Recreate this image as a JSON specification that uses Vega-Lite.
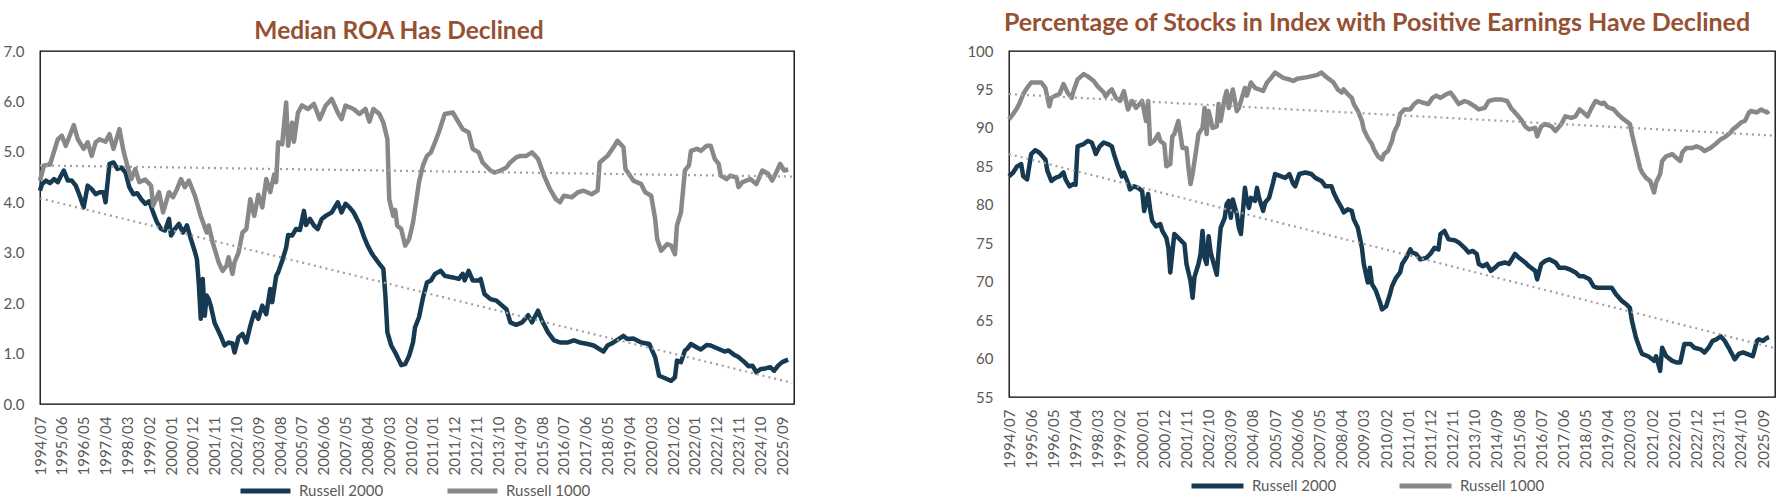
{
"$schema": "https://vega.github.io/schema/vega-lite/v6.json",
"background": "white",
"padding": {"left": 2, "top": 10, "right": 0, "bottom": 0},
"config": {
  "font": "Lato",
  "view": {"stroke": "#000000", "strokeWidth": 1.3},
  "axis": {"labelFont": "Lato", "labelFontSize": 15, "labelColor": "#595959", "grid": false, "ticks": false, "domain": false, "title": null, "labelOverlap": false, "labelSeparation": 0},
  "title": {"font": "Lato", "fontWeight": "bold", "color": "#965032", "anchor": "middle"},
  "legend": {"labelFont": "Lato", "labelFontSize": 15, "labelColor": "#595959", "padding": 0}
},
"datasets": {
"roa": [
{"d":"1994-07","a":4.23},{"d":"1994-08","a":4.36},{"d":"1994-10","a":4.43},{"d":"1994-12","a":4.38},{"d":"1995-02","a":4.46},{"d":"1995-04","a":4.40},{"d":"1995-06","a":4.56},{"d":"1995-07","a":4.63},{"d":"1995-09","a":4.43},{"d":"1995-11","a":4.43},{"d":"1996-01","a":4.33},{"d":"1996-03","a":4.13},{"d":"1996-05","a":3.90},{"d":"1996-07","a":4.33},{"d":"1996-09","a":4.26},{"d":"1996-11","a":4.16},{"d":"1997-01","a":4.20},{"d":"1997-03","a":4.20},{"d":"1997-04","a":4.00},{"d":"1997-06","a":4.76},{"d":"1997-08","a":4.79},{"d":"1997-10","a":4.66},{"d":"1997-12","a":4.69},{"d":"1998-02","a":4.59},{"d":"1998-04","a":4.30},{"d":"1998-06","a":4.16},{"d":"1998-08","a":4.18},{"d":"1998-10","a":4.06},{"d":"1998-12","a":3.97},{"d":"1999-02","a":4.02},{"d":"1999-04","a":3.80},{"d":"1999-06","a":3.60},{"d":"1999-08","a":3.47},{"d":"1999-10","a":3.44},{"d":"1999-12","a":3.67},{"d":"2000-01","a":3.34},{"d":"2000-03","a":3.47},{"d":"2000-05","a":3.57},{"d":"2000-07","a":3.40},{"d":"2000-09","a":3.54},{"d":"2000-11","a":3.27},{"d":"2001-01","a":3.02},{"d":"2001-02","a":2.87},{"d":"2001-03","a":2.41},{"d":"2001-04","a":1.69},{"d":"2001-05","a":2.48},{"d":"2001-06","a":1.75},{"d":"2001-07","a":2.15},{"d":"2001-08","a":2.08},{"d":"2001-09","a":1.95},{"d":"2001-11","a":1.60},{"d":"2001-12","a":1.52},{"d":"2002-02","a":1.35},{"d":"2002-04","a":1.16},{"d":"2002-06","a":1.22},{"d":"2002-08","a":1.20},{"d":"2002-09","a":1.02},{"d":"2002-11","a":1.32},{"d":"2003-01","a":1.39},{"d":"2003-03","a":1.22},{"d":"2003-05","a":1.55},{"d":"2003-07","a":1.82},{"d":"2003-09","a":1.69},{"d":"2003-11","a":1.95},{"d":"2004-01","a":1.78},{"d":"2004-03","a":2.28},{"d":"2004-04","a":2.02},{"d":"2004-06","a":2.54},{"d":"2004-07","a":2.61},{"d":"2004-09","a":2.84},{"d":"2004-11","a":3.10},{"d":"2004-12","a":3.35},{"d":"2005-02","a":3.34},{"d":"2005-04","a":3.47},{"d":"2005-06","a":3.45},{"d":"2005-08","a":3.83},{"d":"2005-09","a":3.55},{"d":"2005-11","a":3.67},{"d":"2006-01","a":3.54},{"d":"2006-03","a":3.47},{"d":"2006-05","a":3.67},{"d":"2006-07","a":3.73},{"d":"2006-10","a":3.80},{"d":"2007-01","a":4.00},{"d":"2007-03","a":3.80},{"d":"2007-05","a":3.97},{"d":"2007-07","a":3.90},{"d":"2007-09","a":3.80},{"d":"2007-12","a":3.57},{"d":"2008-02","a":3.34},{"d":"2008-04","a":3.15},{"d":"2008-06","a":3.00},{"d":"2008-07","a":2.94},{"d":"2008-10","a":2.78},{"d":"2008-12","a":2.68},{"d":"2009-01","a":2.15},{"d":"2009-02","a":1.42},{"d":"2009-04","a":1.16},{"d":"2009-06","a":1.02},{"d":"2009-08","a":0.86},{"d":"2009-09","a":0.77},{"d":"2009-11","a":0.79},{"d":"2010-01","a":0.96},{"d":"2010-03","a":1.22},{"d":"2010-04","a":1.52},{"d":"2010-06","a":1.72},{"d":"2010-08","a":2.11},{"d":"2010-10","a":2.41},{"d":"2010-12","a":2.45},{"d":"2011-02","a":2.58},{"d":"2011-05","a":2.64},{"d":"2011-07","a":2.54},{"d":"2011-11","a":2.51},{"d":"2012-02","a":2.48},{"d":"2012-04","a":2.58},{"d":"2012-05","a":2.45},{"d":"2012-07","a":2.64},{"d":"2012-09","a":2.45},{"d":"2012-12","a":2.45},{"d":"2013-01","a":2.48},{"d":"2013-03","a":2.18},{"d":"2013-06","a":2.08},{"d":"2013-09","a":2.05},{"d":"2013-11","a":1.98},{"d":"2014-02","a":1.88},{"d":"2014-04","a":1.62},{"d":"2014-07","a":1.57},{"d":"2014-10","a":1.62},{"d":"2015-01","a":1.76},{"d":"2015-03","a":1.62},{"d":"2015-06","a":1.85},{"d":"2015-08","a":1.65},{"d":"2015-11","a":1.42},{"d":"2016-02","a":1.26},{"d":"2016-05","a":1.22},{"d":"2016-09","a":1.22},{"d":"2016-12","a":1.26},{"d":"2017-03","a":1.22},{"d":"2017-07","a":1.19},{"d":"2017-10","a":1.16},{"d":"2018-03","a":1.04},{"d":"2018-05","a":1.16},{"d":"2018-08","a":1.22},{"d":"2019-01","a":1.35},{"d":"2019-03","a":1.29},{"d":"2019-06","a":1.30},{"d":"2019-10","a":1.22},{"d":"2020-02","a":1.19},{"d":"2020-05","a":0.93},{"d":"2020-07","a":0.56},{"d":"2020-10","a":0.51},{"d":"2021-01","a":0.46},{"d":"2021-03","a":0.53},{"d":"2021-04","a":0.86},{"d":"2021-06","a":0.83},{"d":"2021-08","a":1.06},{"d":"2021-09","a":1.09},{"d":"2021-11","a":1.19},{"d":"2022-02","a":1.12},{"d":"2022-04","a":1.08},{"d":"2022-07","a":1.17},{"d":"2022-09","a":1.16},{"d":"2023-01","a":1.09},{"d":"2023-04","a":1.04},{"d":"2023-06","a":1.06},{"d":"2023-09","a":0.97},{"d":"2023-11","a":0.93},{"d":"2024-02","a":0.83},{"d":"2024-04","a":0.75},{"d":"2024-06","a":0.76},{"d":"2024-08","a":0.63},{"d":"2024-10","a":0.69},{"d":"2025-01","a":0.71},{"d":"2025-03","a":0.73},{"d":"2025-05","a":0.66},{"d":"2025-07","a":0.76},{"d":"2025-09","a":0.83},{"d":"2025-12","a":0.88},
{"d":"1994-07","b":4.43},{"d":"1994-09","b":4.73},{"d":"1994-12","b":4.75},{"d":"1995-04","b":5.25},{"d":"1995-06","b":5.32},{"d":"1995-08","b":5.12},{"d":"1995-12","b":5.53},{"d":"1996-02","b":5.25},{"d":"1996-05","b":5.06},{"d":"1996-07","b":5.19},{"d":"1996-09","b":4.92},{"d":"1996-11","b":5.19},{"d":"1997-01","b":5.25},{"d":"1997-04","b":5.20},{"d":"1997-06","b":5.35},{"d":"1997-08","b":5.06},{"d":"1997-11","b":5.45},{"d":"1998-01","b":5.02},{"d":"1998-03","b":4.73},{"d":"1998-05","b":4.46},{"d":"1998-07","b":4.66},{"d":"1998-09","b":4.40},{"d":"1998-12","b":4.45},{"d":"1999-03","b":4.33},{"d":"1999-04","b":3.93},{"d":"1999-07","b":4.20},{"d":"1999-09","b":3.80},{"d":"1999-12","b":4.20},{"d":"2000-02","b":4.10},{"d":"2000-04","b":4.26},{"d":"2000-06","b":4.46},{"d":"2000-08","b":4.30},{"d":"2000-10","b":4.43},{"d":"2001-01","b":4.13},{"d":"2001-04","b":3.73},{"d":"2001-07","b":3.40},{"d":"2001-08","b":3.54},{"d":"2001-10","b":3.20},{"d":"2001-11","b":3.07},{"d":"2002-01","b":2.81},{"d":"2002-03","b":2.64},{"d":"2002-05","b":2.74},{"d":"2002-06","b":2.91},{"d":"2002-08","b":2.58},{"d":"2002-09","b":2.81},{"d":"2002-11","b":3.00},{"d":"2003-01","b":3.40},{"d":"2003-03","b":3.47},{"d":"2003-05","b":4.06},{"d":"2003-07","b":3.73},{"d":"2003-09","b":4.15},{"d":"2003-11","b":3.90},{"d":"2004-01","b":4.46},{"d":"2004-03","b":4.20},{"d":"2004-05","b":4.55},{"d":"2004-06","b":4.40},{"d":"2004-07","b":5.19},{"d":"2004-09","b":5.15},{"d":"2004-11","b":5.98},{"d":"2004-12","b":5.12},{"d":"2005-02","b":5.58},{"d":"2005-03","b":5.20},{"d":"2005-05","b":5.78},{"d":"2005-07","b":5.92},{"d":"2005-10","b":5.85},{"d":"2006-01","b":5.95},{"d":"2006-04","b":5.65},{"d":"2006-07","b":5.92},{"d":"2006-10","b":6.05},{"d":"2007-01","b":5.78},{"d":"2007-03","b":5.65},{"d":"2007-05","b":5.92},{"d":"2007-09","b":5.85},{"d":"2007-12","b":5.75},{"d":"2008-03","b":5.85},{"d":"2008-05","b":5.60},{"d":"2008-07","b":5.85},{"d":"2008-10","b":5.75},{"d":"2008-12","b":5.58},{"d":"2009-02","b":5.25},{"d":"2009-03","b":4.06},{"d":"2009-05","b":3.73},{"d":"2009-06","b":3.85},{"d":"2009-07","b":3.54},{"d":"2009-09","b":3.47},{"d":"2009-11","b":3.14},{"d":"2010-01","b":3.27},{"d":"2010-03","b":3.60},{"d":"2010-06","b":4.40},{"d":"2010-08","b":4.73},{"d":"2010-10","b":4.92},{"d":"2010-12","b":4.99},{"d":"2011-02","b":5.19},{"d":"2011-04","b":5.39},{"d":"2011-07","b":5.75},{"d":"2011-11","b":5.78},{"d":"2012-02","b":5.58},{"d":"2012-04","b":5.45},{"d":"2012-07","b":5.39},{"d":"2012-09","b":5.06},{"d":"2012-12","b":4.99},{"d":"2013-02","b":4.79},{"d":"2013-06","b":4.63},{"d":"2013-08","b":4.59},{"d":"2013-11","b":4.63},{"d":"2014-02","b":4.69},{"d":"2014-04","b":4.79},{"d":"2014-07","b":4.89},{"d":"2014-09","b":4.92},{"d":"2014-12","b":4.92},{"d":"2015-03","b":4.99},{"d":"2015-06","b":4.86},{"d":"2015-09","b":4.53},{"d":"2015-12","b":4.26},{"d":"2016-03","b":4.06},{"d":"2016-05","b":4.00},{"d":"2016-07","b":4.13},{"d":"2016-11","b":4.10},{"d":"2017-02","b":4.20},{"d":"2017-05","b":4.23},{"d":"2017-09","b":4.16},{"d":"2017-12","b":4.23},{"d":"2018-01","b":4.79},{"d":"2018-05","b":4.92},{"d":"2018-08","b":5.09},{"d":"2018-10","b":5.22},{"d":"2019-01","b":5.09},{"d":"2019-02","b":4.66},{"d":"2019-06","b":4.43},{"d":"2019-10","b":4.36},{"d":"2019-12","b":4.20},{"d":"2020-03","b":4.13},{"d":"2020-05","b":3.67},{"d":"2020-06","b":3.27},{"d":"2020-08","b":3.04},{"d":"2020-11","b":3.17},{"d":"2021-01","b":3.14},{"d":"2021-03","b":2.97},{"d":"2021-04","b":3.54},{"d":"2021-06","b":3.80},{"d":"2021-08","b":4.63},{"d":"2021-10","b":4.73},{"d":"2021-11","b":5.02},{"d":"2022-02","b":5.06},{"d":"2022-04","b":5.02},{"d":"2022-07","b":5.12},{"d":"2022-09","b":5.12},{"d":"2022-11","b":4.86},{"d":"2023-01","b":4.76},{"d":"2023-02","b":4.53},{"d":"2023-05","b":4.46},{"d":"2023-07","b":4.53},{"d":"2023-10","b":4.49},{"d":"2023-11","b":4.30},{"d":"2024-01","b":4.40},{"d":"2024-05","b":4.46},{"d":"2024-08","b":4.36},{"d":"2024-11","b":4.63},{"d":"2025-02","b":4.56},{"d":"2025-04","b":4.43},{"d":"2025-06","b":4.59},{"d":"2025-08","b":4.76},{"d":"2025-10","b":4.63},{"d":"2025-12","b":4.65}
],
"pct": [
{"d":"1994-07","a":83.7},{"d":"1994-09","a":84.2},{"d":"1994-11","a":85.0},{"d":"1995-01","a":85.3},{"d":"1995-02","a":83.7},{"d":"1995-04","a":83.3},{"d":"1995-06","a":86.6},{"d":"1995-08","a":87.1},{"d":"1995-10","a":86.8},{"d":"1996-01","a":85.9},{"d":"1996-02","a":84.4},{"d":"1996-04","a":83.1},{"d":"1996-06","a":83.5},{"d":"1996-08","a":83.7},{"d":"1996-10","a":84.2},{"d":"1996-11","a":83.3},{"d":"1997-01","a":82.4},{"d":"1997-03","a":82.7},{"d":"1997-04","a":82.6},{"d":"1997-05","a":87.6},{"d":"1997-08","a":87.9},{"d":"1997-10","a":88.3},{"d":"1997-12","a":88.1},{"d":"1998-01","a":87.4},{"d":"1998-02","a":86.6},{"d":"1998-04","a":87.6},{"d":"1998-06","a":88.1},{"d":"1998-08","a":87.9},{"d":"1998-10","a":87.6},{"d":"1998-11","a":86.6},{"d":"1999-01","a":85.0},{"d":"1999-03","a":83.7},{"d":"1999-04","a":84.2},{"d":"1999-06","a":82.9},{"d":"1999-07","a":82.0},{"d":"1999-09","a":82.4},{"d":"1999-11","a":82.2},{"d":"2000-01","a":81.8},{"d":"2000-02","a":79.2},{"d":"2000-04","a":81.4},{"d":"2000-05","a":79.4},{"d":"2000-06","a":77.9},{"d":"2000-08","a":77.2},{"d":"2000-10","a":77.5},{"d":"2000-11","a":76.6},{"d":"2001-01","a":75.7},{"d":"2001-02","a":74.4},{"d":"2001-03","a":71.2},{"d":"2001-05","a":76.2},{"d":"2001-07","a":75.7},{"d":"2001-10","a":74.9},{"d":"2001-11","a":72.3},{"d":"2002-01","a":70.1},{"d":"2002-02","a":67.9},{"d":"2002-03","a":70.6},{"d":"2002-05","a":72.3},{"d":"2002-06","a":73.6},{"d":"2002-07","a":76.6},{"d":"2002-08","a":73.1},{"d":"2002-09","a":72.3},{"d":"2002-10","a":75.9},{"d":"2002-11","a":73.8},{"d":"2003-02","a":70.9},{"d":"2003-03","a":74.0},{"d":"2003-04","a":77.0},{"d":"2003-06","a":78.3},{"d":"2003-07","a":80.1},{"d":"2003-08","a":80.5},{"d":"2003-09","a":78.3},{"d":"2003-10","a":80.7},{"d":"2003-12","a":78.8},{"d":"2004-01","a":77.0},{"d":"2004-02","a":76.2},{"d":"2004-04","a":82.2},{"d":"2004-05","a":80.5},{"d":"2004-06","a":79.6},{"d":"2004-07","a":80.9},{"d":"2004-09","a":80.5},{"d":"2004-10","a":82.2},{"d":"2004-11","a":80.9},{"d":"2005-01","a":79.2},{"d":"2005-02","a":80.3},{"d":"2005-04","a":80.9},{"d":"2005-06","a":82.9},{"d":"2005-07","a":84.0},{"d":"2005-10","a":83.7},{"d":"2005-12","a":83.5},{"d":"2006-02","a":84.0},{"d":"2006-04","a":82.7},{"d":"2006-05","a":82.4},{"d":"2006-07","a":84.0},{"d":"2006-10","a":84.2},{"d":"2007-01","a":84.0},{"d":"2007-03","a":83.5},{"d":"2007-06","a":83.1},{"d":"2007-08","a":82.4},{"d":"2007-11","a":82.4},{"d":"2007-12","a":81.6},{"d":"2008-02","a":80.5},{"d":"2008-04","a":79.6},{"d":"2008-05","a":79.0},{"d":"2008-07","a":79.4},{"d":"2008-09","a":79.2},{"d":"2008-10","a":78.1},{"d":"2008-12","a":77.0},{"d":"2009-02","a":74.4},{"d":"2009-03","a":72.3},{"d":"2009-05","a":69.9},{"d":"2009-06","a":71.8},{"d":"2009-07","a":69.7},{"d":"2009-09","a":68.8},{"d":"2009-11","a":67.3},{"d":"2009-12","a":66.4},{"d":"2010-02","a":66.8},{"d":"2010-04","a":68.4},{"d":"2010-05","a":69.4},{"d":"2010-07","a":70.5},{"d":"2010-09","a":71.2},{"d":"2010-10","a":72.3},{"d":"2010-12","a":73.1},{"d":"2011-02","a":74.2},{"d":"2011-03","a":73.8},{"d":"2011-05","a":73.6},{"d":"2011-07","a":72.9},{"d":"2011-10","a":73.1},{"d":"2011-12","a":73.6},{"d":"2012-02","a":74.4},{"d":"2012-04","a":74.2},{"d":"2012-05","a":76.2},{"d":"2012-07","a":76.6},{"d":"2012-09","a":75.5},{"d":"2012-12","a":75.4},{"d":"2013-02","a":75.1},{"d":"2013-05","a":74.4},{"d":"2013-07","a":73.8},{"d":"2013-09","a":74.0},{"d":"2013-11","a":73.6},{"d":"2013-12","a":72.3},{"d":"2014-02","a":72.0},{"d":"2014-04","a":72.3},{"d":"2014-06","a":71.4},{"d":"2014-08","a":71.8},{"d":"2014-10","a":72.3},{"d":"2015-01","a":72.5},{"d":"2015-03","a":72.3},{"d":"2015-06","a":73.6},{"d":"2015-08","a":73.1},{"d":"2015-11","a":72.5},{"d":"2016-01","a":72.0},{"d":"2016-04","a":71.4},{"d":"2016-05","a":70.3},{"d":"2016-07","a":72.3},{"d":"2016-09","a":72.7},{"d":"2016-11","a":72.9},{"d":"2017-02","a":72.5},{"d":"2017-04","a":71.8},{"d":"2017-07","a":71.8},{"d":"2017-09","a":71.6},{"d":"2017-12","a":71.2},{"d":"2018-02","a":70.7},{"d":"2018-04","a":70.7},{"d":"2018-07","a":70.3},{"d":"2018-09","a":69.4},{"d":"2018-11","a":69.2},{"d":"2019-02","a":69.2},{"d":"2019-06","a":69.2},{"d":"2019-08","a":68.4},{"d":"2019-11","a":67.5},{"d":"2020-01","a":67.1},{"d":"2020-03","a":66.6},{"d":"2020-04","a":64.9},{"d":"2020-06","a":62.7},{"d":"2020-08","a":61.2},{"d":"2020-09","a":60.6},{"d":"2020-12","a":60.3},{"d":"2021-02","a":59.9},{"d":"2021-03","a":59.7},{"d":"2021-04","a":60.3},{"d":"2021-06","a":58.4},{"d":"2021-07","a":61.4},{"d":"2021-09","a":60.3},{"d":"2021-12","a":59.7},{"d":"2022-02","a":59.5},{"d":"2022-04","a":59.5},{"d":"2022-06","a":61.9},{"d":"2022-09","a":61.9},{"d":"2022-11","a":61.4},{"d":"2023-02","a":61.2},{"d":"2023-04","a":60.8},{"d":"2023-06","a":61.4},{"d":"2023-08","a":62.3},{"d":"2023-10","a":62.5},{"d":"2023-12","a":62.9},{"d":"2024-02","a":62.3},{"d":"2024-04","a":61.4},{"d":"2024-07","a":59.9},{"d":"2024-09","a":60.6},{"d":"2024-11","a":60.8},{"d":"2025-01","a":60.6},{"d":"2025-04","a":60.3},{"d":"2025-06","a":62.3},{"d":"2025-07","a":62.5},{"d":"2025-09","a":62.3},{"d":"2025-11","a":62.7},{"d":"2025-12","a":62.8},
{"d":"1994-07","b":91.1},{"d":"1994-09","b":91.8},{"d":"1994-11","b":92.6},{"d":"1994-12","b":93.1},{"d":"1995-02","b":94.4},{"d":"1995-04","b":95.2},{"d":"1995-06","b":95.9},{"d":"1995-08","b":95.9},{"d":"1995-11","b":95.9},{"d":"1996-01","b":95.2},{"d":"1996-03","b":92.8},{"d":"1996-04","b":93.9},{"d":"1996-06","b":94.2},{"d":"1996-08","b":94.4},{"d":"1996-10","b":95.7},{"d":"1996-12","b":94.6},{"d":"1997-02","b":93.9},{"d":"1997-03","b":94.8},{"d":"1997-05","b":96.3},{"d":"1997-08","b":97.0},{"d":"1997-10","b":96.7},{"d":"1997-11","b":96.5},{"d":"1998-01","b":96.1},{"d":"1998-03","b":95.4},{"d":"1998-06","b":94.6},{"d":"1998-07","b":94.1},{"d":"1998-09","b":94.8},{"d":"1998-10","b":95.0},{"d":"1998-12","b":93.9},{"d":"1999-02","b":93.5},{"d":"1999-04","b":94.8},{"d":"1999-06","b":92.4},{"d":"1999-08","b":93.5},{"d":"1999-10","b":92.6},{"d":"2000-01","b":93.5},{"d":"2000-03","b":90.9},{"d":"2000-04","b":93.5},{"d":"2000-05","b":87.9},{"d":"2000-07","b":88.3},{"d":"2000-09","b":89.2},{"d":"2000-10","b":88.3},{"d":"2000-12","b":87.9},{"d":"2001-01","b":85.0},{"d":"2001-03","b":85.3},{"d":"2001-04","b":88.9},{"d":"2001-05","b":89.2},{"d":"2001-07","b":90.9},{"d":"2001-08","b":89.2},{"d":"2001-09","b":87.4},{"d":"2001-11","b":87.4},{"d":"2001-12","b":84.8},{"d":"2002-01","b":82.7},{"d":"2002-02","b":84.0},{"d":"2002-04","b":87.4},{"d":"2002-05","b":89.2},{"d":"2002-07","b":90.0},{"d":"2002-08","b":92.6},{"d":"2002-09","b":89.2},{"d":"2002-10","b":92.2},{"d":"2002-12","b":90.0},{"d":"2003-02","b":90.2},{"d":"2003-03","b":93.1},{"d":"2003-04","b":90.9},{"d":"2003-06","b":93.9},{"d":"2003-07","b":94.8},{"d":"2003-08","b":92.6},{"d":"2003-10","b":95.0},{"d":"2003-12","b":92.2},{"d":"2004-01","b":92.6},{"d":"2004-04","b":95.2},{"d":"2004-05","b":94.2},{"d":"2004-07","b":95.9},{"d":"2004-09","b":95.2},{"d":"2005-01","b":94.8},{"d":"2005-03","b":95.9},{"d":"2005-05","b":96.5},{"d":"2005-07","b":97.2},{"d":"2005-11","b":96.5},{"d":"2006-02","b":96.3},{"d":"2006-04","b":96.1},{"d":"2006-06","b":96.4},{"d":"2006-11","b":96.6},{"d":"2007-04","b":96.9},{"d":"2007-06","b":97.2},{"d":"2007-08","b":96.7},{"d":"2007-11","b":96.1},{"d":"2007-12","b":95.9},{"d":"2008-02","b":95.0},{"d":"2008-04","b":94.6},{"d":"2008-05","b":95.0},{"d":"2008-07","b":94.4},{"d":"2008-09","b":93.9},{"d":"2008-10","b":93.1},{"d":"2008-12","b":92.2},{"d":"2009-02","b":90.9},{"d":"2009-03","b":89.8},{"d":"2009-05","b":88.7},{"d":"2009-07","b":87.9},{"d":"2009-08","b":87.2},{"d":"2009-10","b":86.3},{"d":"2009-12","b":85.9},{"d":"2010-01","b":86.6},{"d":"2010-03","b":87.0},{"d":"2010-05","b":88.3},{"d":"2010-06","b":89.4},{"d":"2010-08","b":90.5},{"d":"2010-09","b":91.8},{"d":"2010-11","b":92.4},{"d":"2011-02","b":92.4},{"d":"2011-04","b":93.1},{"d":"2011-06","b":93.5},{"d":"2011-08","b":93.3},{"d":"2011-11","b":93.1},{"d":"2012-01","b":93.9},{"d":"2012-03","b":94.2},{"d":"2012-05","b":93.9},{"d":"2012-08","b":94.4},{"d":"2012-10","b":94.6},{"d":"2012-12","b":93.9},{"d":"2013-02","b":93.1},{"d":"2013-05","b":93.5},{"d":"2013-07","b":93.3},{"d":"2013-10","b":92.8},{"d":"2013-12","b":92.4},{"d":"2014-03","b":92.6},{"d":"2014-05","b":93.5},{"d":"2014-08","b":93.7},{"d":"2014-11","b":93.7},{"d":"2015-02","b":93.5},{"d":"2015-04","b":92.6},{"d":"2015-06","b":92.0},{"d":"2015-09","b":91.1},{"d":"2015-11","b":90.2},{"d":"2016-01","b":89.8},{"d":"2016-04","b":90.0},{"d":"2016-05","b":88.9},{"d":"2016-07","b":90.2},{"d":"2016-09","b":90.5},{"d":"2016-12","b":90.2},{"d":"2017-02","b":89.6},{"d":"2017-05","b":90.5},{"d":"2017-07","b":91.5},{"d":"2017-10","b":91.3},{"d":"2017-12","b":91.5},{"d":"2018-02","b":92.4},{"d":"2018-04","b":92.0},{"d":"2018-06","b":91.5},{"d":"2018-08","b":92.6},{"d":"2018-10","b":93.5},{"d":"2019-01","b":93.1},{"d":"2019-02","b":93.3},{"d":"2019-04","b":92.7},{"d":"2019-07","b":92.4},{"d":"2019-09","b":91.8},{"d":"2019-11","b":91.3},{"d":"2020-03","b":90.5},{"d":"2020-04","b":89.2},{"d":"2020-06","b":87.0},{"d":"2020-08","b":84.8},{"d":"2020-09","b":84.2},{"d":"2020-11","b":83.5},{"d":"2021-01","b":83.1},{"d":"2021-03","b":81.6},{"d":"2021-04","b":82.9},{"d":"2021-06","b":84.0},{"d":"2021-07","b":85.7},{"d":"2021-09","b":86.3},{"d":"2021-12","b":86.6},{"d":"2022-02","b":86.1},{"d":"2022-04","b":85.7},{"d":"2022-05","b":86.8},{"d":"2022-07","b":87.4},{"d":"2022-10","b":87.4},{"d":"2022-12","b":87.6},{"d":"2023-02","b":87.4},{"d":"2023-04","b":87.0},{"d":"2023-07","b":87.4},{"d":"2023-09","b":87.8},{"d":"2023-12","b":88.5},{"d":"2024-02","b":88.8},{"d":"2024-05","b":89.4},{"d":"2024-06","b":89.8},{"d":"2024-08","b":90.2},{"d":"2024-10","b":90.7},{"d":"2024-12","b":90.9},{"d":"2025-02","b":92.0},{"d":"2025-03","b":92.2},{"d":"2025-06","b":92.0},{"d":"2025-08","b":92.4},{"d":"2025-11","b":92.0},{"d":"2025-12","b":92.2}
],
"troa": [{"d":"1994-07","k":"a","value":4.08},{"d":"2026-02","k":"a","value":0.42},{"d":"1994-07","k":"b","value":4.73},{"d":"2026-02","k":"b","value":4.51}],
"tpct": [{"d":"1994-07","k":"a","value":86.6},{"d":"2026-02","k":"a","value":61.4},{"d":"1994-07","k":"b","value":94.4},{"d":"2026-02","k":"b","value":89.0}]
},
"bounds": "flush",
"spacing": 215,
"resolve": {"scale": {"color": "independent", "x": "independent", "y": "independent"}, "legend": {"color": "independent"}},
"hconcat": [
{
  "width": 754, "height": 353,
  "title": {"text": "Median ROA Has Declined", "offset": 0, "fontSize": 24.5, "dx": -18},
  "encoding": {
    "x": {"field": "d", "type": "temporal",
          "scale": {"type": "utc", "domain": [{"year":1994,"month":7,"date":1,"utc":true},{"year":2026,"month":3,"date":1,"utc":true}]},
          "axis": {"format": "%Y/%m", "labelAngle": 270, "labelPadding": 12, "labelOverlap": false, "labelFlush": false, "labelBound": false,
            "values": [{"year":1994,"month":7,"utc":true},{"year":1995,"month":6,"utc":true},{"year":1996,"month":5,"utc":true},{"year":1997,"month":4,"utc":true},{"year":1998,"month":3,"utc":true},{"year":1999,"month":2,"utc":true},{"year":2000,"month":1,"utc":true},{"year":2000,"month":12,"utc":true},{"year":2001,"month":11,"utc":true},{"year":2002,"month":10,"utc":true},{"year":2003,"month":9,"utc":true},{"year":2004,"month":8,"utc":true},{"year":2005,"month":7,"utc":true},{"year":2006,"month":6,"utc":true},{"year":2007,"month":5,"utc":true},{"year":2008,"month":4,"utc":true},{"year":2009,"month":3,"utc":true},{"year":2010,"month":2,"utc":true},{"year":2011,"month":1,"utc":true},{"year":2011,"month":12,"utc":true},{"year":2012,"month":11,"utc":true},{"year":2013,"month":10,"utc":true},{"year":2014,"month":9,"utc":true},{"year":2015,"month":8,"utc":true},{"year":2016,"month":7,"utc":true},{"year":2017,"month":6,"utc":true},{"year":2018,"month":5,"utc":true},{"year":2019,"month":4,"utc":true},{"year":2020,"month":3,"utc":true},{"year":2021,"month":2,"utc":true},{"year":2022,"month":1,"utc":true},{"year":2022,"month":12,"utc":true},{"year":2023,"month":11,"utc":true},{"year":2024,"month":10,"utc":true},{"year":2025,"month":9,"utc":true}]}},
    "y": {"field": "value", "type": "quantitative", "scale": {"domain": [0, 7], "nice": false, "zero": false},
          "axis": {"values": [0,1,2,3,4,5,6,7], "format": ".1f", "labelPadding": 16, "labelOverlap": false}}
  },
  "layer": [
    {"data": {"name": "roa"},
     "transform": [{"fold": ["a", "b"]}, {"filter": "isValid(datum.value)"}],
     "mark": {"type": "line", "strokeWidth": 4.5, "strokeJoin": "round"},
     "encoding": {
       "color": {"field": "key", "type": "nominal", "scale": {"domain": ["a", "b"], "range": ["#163A52", "#888888"]},
             "legend": {"orient": "none", "legendX": 198, "legendY": 431, "direction": "horizontal", "title": null, "symbolType": "stroke", "symbolSize": 2500, "symbolStrokeWidth": 5, "clipHeight": 18, "labelOffset": 6, "columnPadding": 61, "labelExpr": "datum.label == 'a' ? 'Russell 2000' : 'Russell 1000'"}}
     }},
    {"data": {"name": "troa"},
     "mark": {"type": "line", "strokeWidth": 2.2, "strokeDash": [2, 4], "color": "#A0A0A0"},
     "encoding": {"detail": {"field": "k"}}}
  ]
},
{
  "width": 766, "height": 346,
  "title": {"text": "Percentage of Stocks in Index with Positive Earnings Have Declined", "offset": 8, "fontSize": 25, "dx": -15},
  "encoding": {
    "x": {"field": "d", "type": "temporal",
          "scale": {"type": "utc", "domain": [{"year":1994,"month":7,"date":1,"utc":true},{"year":2026,"month":3,"date":1,"utc":true}]},
          "axis": {"format": "%Y/%m", "labelAngle": 270, "labelPadding": 12, "labelOverlap": false, "labelFlush": false, "labelBound": false,
            "values": [{"year":1994,"month":7,"utc":true},{"year":1995,"month":6,"utc":true},{"year":1996,"month":5,"utc":true},{"year":1997,"month":4,"utc":true},{"year":1998,"month":3,"utc":true},{"year":1999,"month":2,"utc":true},{"year":2000,"month":1,"utc":true},{"year":2000,"month":12,"utc":true},{"year":2001,"month":11,"utc":true},{"year":2002,"month":10,"utc":true},{"year":2003,"month":9,"utc":true},{"year":2004,"month":8,"utc":true},{"year":2005,"month":7,"utc":true},{"year":2006,"month":6,"utc":true},{"year":2007,"month":5,"utc":true},{"year":2008,"month":4,"utc":true},{"year":2009,"month":3,"utc":true},{"year":2010,"month":2,"utc":true},{"year":2011,"month":1,"utc":true},{"year":2011,"month":12,"utc":true},{"year":2012,"month":11,"utc":true},{"year":2013,"month":10,"utc":true},{"year":2014,"month":9,"utc":true},{"year":2015,"month":8,"utc":true},{"year":2016,"month":7,"utc":true},{"year":2017,"month":6,"utc":true},{"year":2018,"month":5,"utc":true},{"year":2019,"month":4,"utc":true},{"year":2020,"month":3,"utc":true},{"year":2021,"month":2,"utc":true},{"year":2022,"month":1,"utc":true},{"year":2022,"month":12,"utc":true},{"year":2023,"month":11,"utc":true},{"year":2024,"month":10,"utc":true},{"year":2025,"month":9,"utc":true}]}},
    "y": {"field": "value", "type": "quantitative", "scale": {"domain": [55, 100], "nice": false, "zero": false},
          "axis": {"values": [55,60,65,70,75,80,85,90,95,100], "format": "d", "labelPadding": 16, "labelOverlap": false}}
  },
  "layer": [
    {"data": {"name": "pct"},
     "transform": [{"fold": ["a", "b"]}, {"filter": "isValid(datum.value)"}],
     "mark": {"type": "line", "strokeWidth": 4.5, "strokeJoin": "round"},
     "encoding": {
       "color": {"field": "key", "type": "nominal", "scale": {"domain": ["a", "b"], "range": ["#163A52", "#888888"]},
             "legend": {"orient": "none", "legendX": 180, "legendY": 426, "direction": "horizontal", "title": null, "symbolType": "stroke", "symbolSize": 2704, "symbolStrokeWidth": 5, "clipHeight": 18, "labelOffset": 6, "columnPadding": 60, "labelExpr": "datum.label == 'a' ? 'Russell 2000' : 'Russell 1000'"}}
     }},
    {"data": {"name": "tpct"},
     "mark": {"type": "line", "strokeWidth": 2.2, "strokeDash": [2, 4], "color": "#A0A0A0"},
     "encoding": {"detail": {"field": "k"}}}
  ]
}
]
}
